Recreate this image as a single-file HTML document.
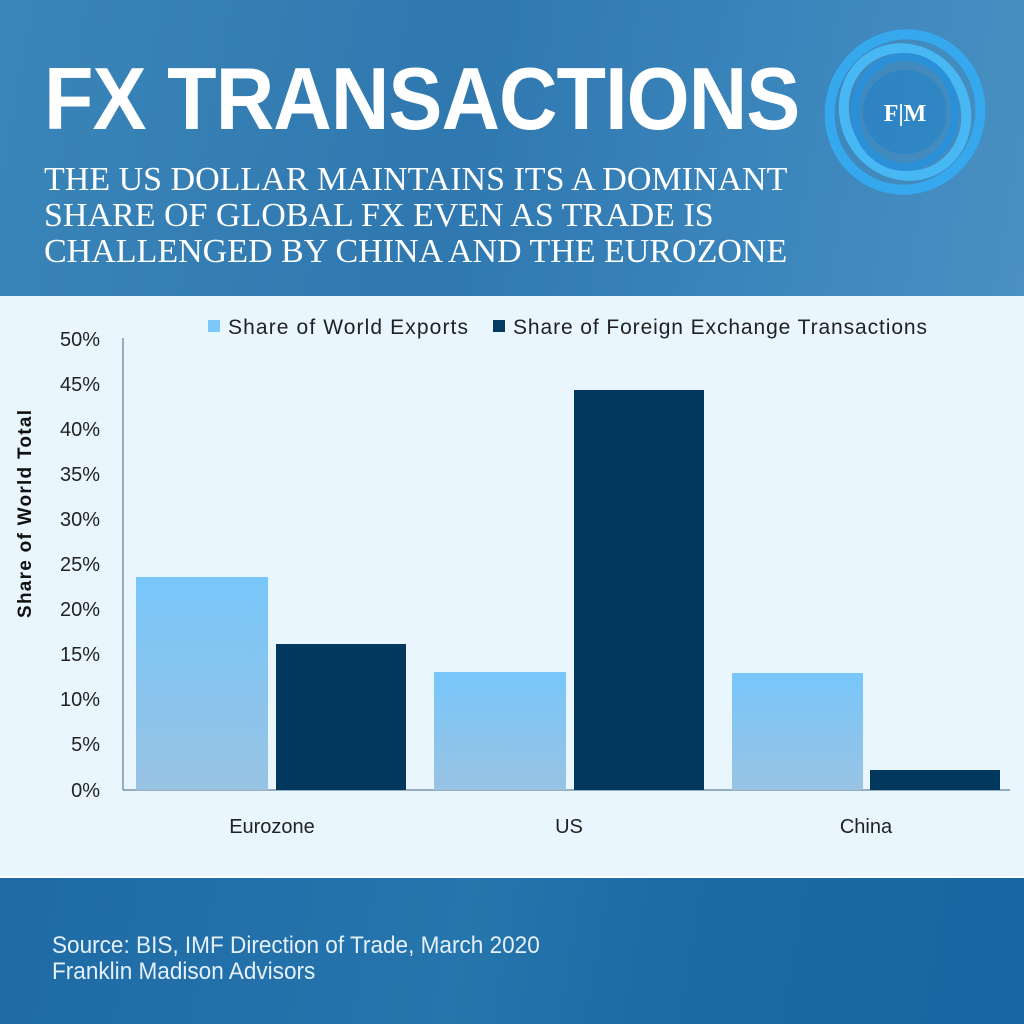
<!DOCTYPE html>
<html><head><meta charset="utf-8"><style>
html,body{margin:0;padding:0}
body{width:1024px;height:1024px;position:relative;overflow:hidden;font-family:"Liberation Sans",sans-serif;}
.hdr{position:absolute;left:0;top:0;width:1024px;height:296px;background:linear-gradient(100deg,#3a85b8 0%,#2f78b0 45%,#3b86bc 75%,#4a90c2 100%);}
.chart{position:absolute;left:0;top:296px;width:1024px;height:580px;background:#e9f6fe;}
.ftr{position:absolute;left:0;top:878px;width:1024px;height:146px;background:linear-gradient(100deg,#1f6aa5 0%,#2675ad 45%,#1c6ba4 65%,#1866a1 100%);}
.t{position:absolute;color:#fff;white-space:nowrap}
</style></head><body>
<div class="hdr"></div>
<div class="t" style="left:44px;top:48px;font-size:88px;font-weight:bold;letter-spacing:-1px;transform:scaleX(0.92);transform-origin:left;">FX TRANSACTIONS</div>
<div class="t" style="left:44px;top:162px;font-family:'Liberation Serif',serif;font-size:34px;line-height:36px;transform:scaleX(1.0);transform-origin:left;">THE US DOLLAR MAINTAINS ITS A DOMINANT<br>SHARE OF GLOBAL FX EVEN AS TRADE IS<br>CHALLENGED BY CHINA AND THE EUROZONE</div>
<svg style="position:absolute;left:815px;top:25px" width="180" height="175" viewBox="0 0 180 175">
<g fill="none" stroke="#3fb0f0" stroke-width="10">
<ellipse cx="90" cy="87" rx="75" ry="78" transform="rotate(20 90 87)" stroke="#35a8ee"/>
<ellipse cx="90" cy="87" rx="60" ry="65" transform="rotate(-30 90 87)" stroke="#48b8f5"/>
<ellipse cx="90" cy="87" rx="50" ry="55" stroke="#2a90d8" stroke-width="8"/>
</g>
<circle cx="90" cy="87" r="42" fill="#1d7fc8" opacity="0.5"/>
<text x="90" y="96" fill="#fff" font-family="Liberation Serif,serif" font-size="24" font-weight="bold" text-anchor="middle">F|M</text>
</svg>
<div class="chart"></div>
<svg style="position:absolute;left:0;top:296px" width="1024" height="580">
<defs><linearGradient id="lg" x1="0" y1="0" x2="0" y2="1"><stop offset="0" stop-color="#78c6fa"/><stop offset="1" stop-color="#98c3e3"/></linearGradient></defs>
<g font-family="Liberation Sans,sans-serif" font-size="20" fill="#222" text-anchor="end">
<text x="100" y="50">50%</text><text x="100" y="95">45%</text><text x="100" y="140">40%</text><text x="100" y="185">35%</text><text x="100" y="230">30%</text><text x="100" y="275">25%</text><text x="100" y="320">20%</text><text x="100" y="365">15%</text><text x="100" y="410">10%</text><text x="100" y="455">5%</text><text x="100" y="501">0%</text>
</g>
<text transform="translate(31 218) rotate(-90)" font-family="Liberation Sans,sans-serif" font-size="19" font-weight="bold" fill="#111" text-anchor="middle" textLength="208">Share of World Total</text>
<rect x="208" y="24" width="12" height="12" fill="#7cc8fa"/>
<text x="228" y="38" font-family="Liberation Sans,sans-serif" font-size="21" fill="#222" textLength="240">Share of World Exports</text>
<rect x="493" y="24" width="12" height="12" fill="#023a63"/>
<text x="513" y="38" font-family="Liberation Sans,sans-serif" font-size="21" fill="#222" textLength="414">Share of Foreign Exchange Transactions</text>
<line x1="123" y1="42" x2="123" y2="494" stroke="#7b93ab" stroke-width="1.5"/>
<line x1="123" y1="494" x2="1010" y2="494" stroke="#7b93ab" stroke-width="1.5"/>
<rect x="136" y="281" width="132" height="213" fill="url(#lg)"/>
<rect x="276" y="348" width="130" height="146" fill="#02375e"/>
<rect x="434" y="376" width="132" height="118" fill="url(#lg)"/>
<rect x="574" y="94" width="130" height="400" fill="#02375e"/>
<rect x="732" y="377" width="131" height="117" fill="url(#lg)"/>
<rect x="870" y="474" width="130" height="20" fill="#02375e"/>
<g font-family="Liberation Sans,sans-serif" font-size="20" fill="#222" text-anchor="middle">
<text x="272" y="537">Eurozone</text><text x="569" y="537">US</text><text x="866" y="537">China</text>
</g>
</svg>
<div class="ftr"></div>
<div class="t" style="left:52px;top:933px;font-size:24px;line-height:26px;color:#e4f0fa;transform:scaleX(0.94);transform-origin:left;">Source: BIS, IMF Direction of Trade, March 2020<br>Franklin Madison Advisors</div>
</body></html>
